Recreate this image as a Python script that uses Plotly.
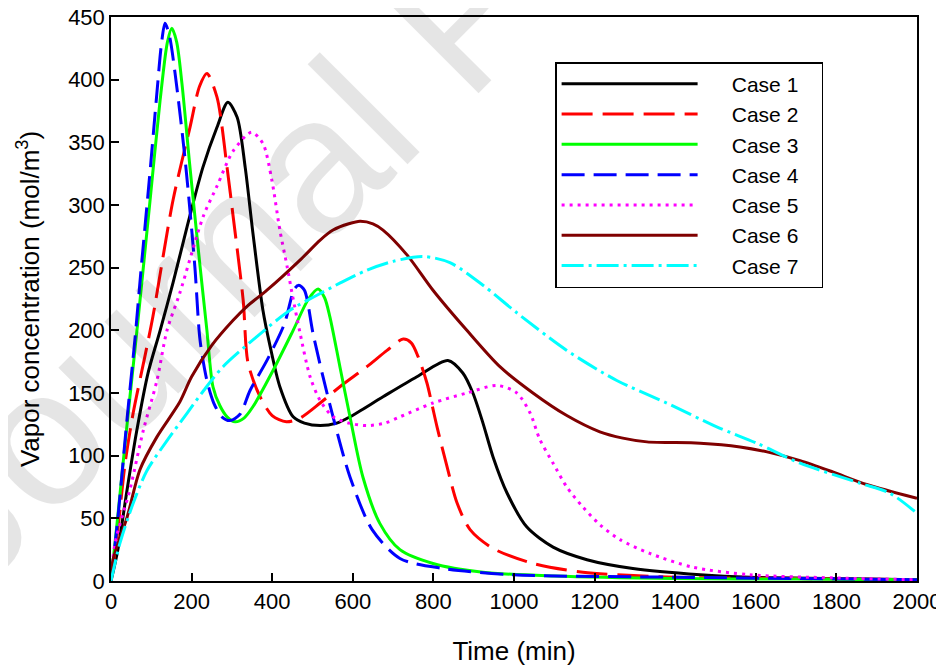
import plotly.graph_objects as go

# ---- data ----
case1_t = [0, 17, 40, 64, 92, 122, 154, 189, 228, 263, 290, 313, 333, 352, 377, 395, 419, 452, 480, 519, 560, 593, 675, 759, 836, 873, 898, 923, 948, 983, 1032, 1097, 1181, 1295, 1462, 1585, 1800, 2000]
case1_v = [0, 25, 73, 120, 166, 200, 238, 283, 330, 362, 382, 370, 330, 278, 216, 187, 155, 131, 126, 124, 126, 131, 147, 163, 176, 166, 150, 126, 99, 70, 43, 27, 17, 10, 5, 3, 2, 1]

case2_t = [0, 17, 35, 55, 84, 104, 154, 196, 220, 238, 263, 288, 303, 328, 340, 370, 400, 435, 469, 519, 568, 635, 685, 725, 745, 762, 784, 797, 809, 834, 859, 891, 948, 1047, 1171, 1400, 1700, 2000]
case2_v = [0, 41, 94, 134, 179, 211, 304, 362, 395, 405, 386, 330, 291, 224, 174, 147, 132, 127, 130, 142, 155, 171, 184, 193, 190, 179, 158, 140, 123, 91, 62, 41, 26, 14, 7, 3, 2, 1]

case3_t = [0, 15, 30, 47, 66, 97, 122, 140, 151, 163, 176, 196, 221, 238, 253, 270, 288, 308, 330, 352, 402, 452, 490, 514, 530, 543, 568, 593, 625, 667, 717, 799, 923, 1100, 1400, 1700, 2000]
case3_v = [0, 46, 94, 147, 205, 304, 384, 430, 441, 430, 397, 330, 251, 200, 155, 140, 131, 127, 130, 139, 168, 200, 225, 233, 226, 211, 171, 131, 83, 46, 25, 14, 7, 4, 2, 1.5, 1]

case4_t = [0, 17, 40, 60, 75, 95, 113, 125, 134, 145, 159, 184, 208, 221, 238, 255, 275, 295, 320, 345, 387, 430, 455, 466, 480, 501, 526, 551, 593, 648, 717, 824, 998, 1400, 1700, 2000]
case4_v = [0, 50, 130, 195, 250, 320, 386, 428, 445, 435, 405, 336, 251, 192, 160, 142, 131, 128, 133, 152, 176, 205, 233, 236, 232, 198, 163, 131, 83, 41, 18, 10, 5, 3, 2, 1]

case5_t = [0, 10, 47, 80, 114, 139, 171, 229, 263, 303, 349, 377, 399, 419, 437, 449, 469, 494, 519, 551, 590, 635, 680, 717, 799, 883, 958, 1007, 1040, 1064, 1097, 1131, 1171, 1213, 1263, 1337, 1444, 1585, 1791, 2000]
case5_v = [0, 30, 73, 120, 160, 200, 230, 291, 315, 343, 358, 349, 320, 280, 251, 230, 198, 163, 144, 131, 126, 124, 126, 131, 142, 150, 156, 150, 134, 113, 94, 75, 59, 45, 33, 22, 11, 5, 2.5, 1]

case6_t = [0, 5, 40, 72, 114, 171, 200, 250, 303, 337, 387, 469, 519, 551, 590, 618, 650, 675, 735, 799, 883, 965, 1047, 1131, 1213, 1270, 1330, 1462, 1561, 1628, 1710, 1791, 1875, 2000]
case6_v = [0, 17, 51, 89, 115, 143, 163, 188, 208, 219, 232, 256, 272, 280, 285, 287, 285, 280, 260, 232, 200, 171, 150, 132, 119, 114, 111, 110, 107, 103, 96, 87, 77, 66]

case7_t = [0, 22, 55, 89, 139, 189, 230, 278, 362, 444, 511, 570, 635, 700, 774, 841, 923, 1007, 1131, 1255, 1379, 1503, 1602, 1710, 1859, 1933, 2000]
case7_v = [0, 30, 62, 88, 112, 134, 152, 171, 195, 216, 228, 238, 248, 255, 259, 254, 236, 214, 184, 160, 142, 123, 110, 94, 78, 70, 54]

names = ["Case 1", "Case 2", "Case 3", "Case 4", "Case 5", "Case 6", "Case 7"]
x_ticks = [0, 200, 400, 600, 800, 1000, 1200, 1400, 1600, 1800, 2000]
y_ticks = [0, 50, 100, 150, 200, 250, 300, 350, 400, 450]

series = [(case1_t, case1_v), (case2_t, case2_v), (case3_t, case3_v), (case4_t, case4_v),
          (case5_t, case5_v), (case6_t, case6_v), (case7_t, case7_v)]
styles = [
    dict(color="#000000", dash="solid"),
    dict(color="#ff0000", dash="31px,10px"),
    dict(color="#00ff00", dash="solid"),
    dict(color="#0000ff", dash="23px,9px"),
    dict(color="#ff00ff", dash="3px,5px"),
    dict(color="#800000", dash="solid"),
    dict(color="#00ffff", dash="22px,5px,3px,5px"),
]

FONT = "Arial, 'Liberation Sans', sans-serif"
LEAD = "\u00a0" * 5   # gap between legend line and label
TRAIL = "\u00a0" * 3  # right padding inside the legend box

fig = go.Figure()
for (t, v), name, st in zip(series, names, styles):
    fig.add_trace(go.Scatter(
        x=t, y=v, name=LEAD + name + TRAIL, mode="lines",
        line=dict(color=st["color"], dash=st["dash"], width=3, shape="spline", smoothing=0.8),
    ))

axis_common = dict(
    showline=True, linecolor="black", linewidth=1.5, mirror=True,
    ticks="inside", ticklen=8, tickwidth=1.5, tickcolor="black",
    showgrid=False, zeroline=False, automargin=False, ticklabeloverflow="allow",
    tickfont=dict(family=FONT, size=22, color="black"),
)

# the page body has an 8px margin, so the figure is 8px smaller than the window
fig.update_layout(
    width=936, height=661,
    margin=dict(l=103, r=27, t=9, b=88, autoexpand=False),
    paper_bgcolor="white", plot_bgcolor="white",
    font=dict(family=FONT, color="black"),
    xaxis=dict(range=[0, 2000], tickvals=x_ticks,
               title=dict(text="Time (min)", font=dict(family=FONT, size=26), standoff=29),
               **axis_common),
    yaxis=dict(range=[0, 450], tickvals=y_ticks,
               title=dict(text="Vapor concentration (mol/m<sup>3</sup>)", font=dict(family=FONT, size=26), standoff=21),
               **axis_common),
    legend=dict(
        x=0.551, y=0.92, xanchor="left", yanchor="top",
        bgcolor="white", bordercolor="black", borderwidth=1.5,
        font=dict(family=FONT, size=21, color="black"),
        itemwidth=136,
    ),
    annotations=[dict(
        text="Journal Pre-proof", xref="paper", yref="paper",
        x=0.435, y=1.005, xanchor="center", yanchor="middle", showarrow=False, textangle=-45,
        font=dict(family=FONT, size=195, color="rgba(0,0,0,0.1)"),
    )],
)

fig.write_html("out.html")
